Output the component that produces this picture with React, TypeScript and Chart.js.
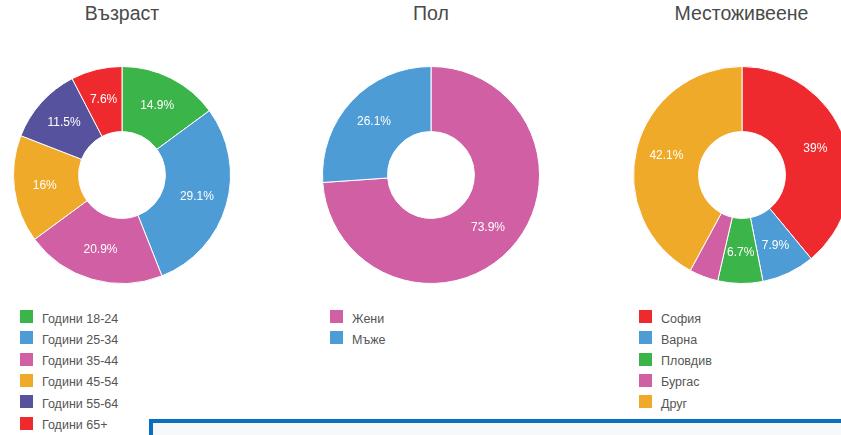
import React, { useEffect, useRef } from "react";
import { Chart, registerables } from "chart.js";

Chart.register(...registerables);

const ageTitle = "Възраст";
const ageLabels = ["Години 18-24", "Години 25-34", "Години 35-44", "Години 45-54", "Години 55-64", "Години 65+"];
const ageValues = [14.9, 29.1, 20.9, 16, 11.5, 7.6];
const ageColors = ["#3bb44a", "#4e9cd5", "#d05fa3", "#f0aa29", "#56529d", "#ee2a2f"];

const genderTitle = "Пол";
const genderLabels = ["Жени", "Мъже"];
const genderValues = [73.9, 26.1];
const genderColors = ["#d05fa3", "#4e9cd5"];

const cityTitle = "Местоживеене";
const cityLabels = ["София", "Варна", "Пловдив", "Бургас", "Друг"];
const cityValues = [39, 7.9, 6.7, 4.3, 42.1];
const cityColors = ["#ee2a2f", "#4e9cd5", "#3bb44a", "#d05fa3", "#f0aa29"];

const FONT = "Arial, 'Liberation Sans', Helvetica, sans-serif";

const labelPlugin = {
  id: "pctLabels",
  afterDatasetsDraw(chart: any) {
    const { ctx } = chart;
    const meta = chart.getDatasetMeta(0);
    const data = chart.data.datasets[0].data as number[];
    ctx.save();
    ctx.fillStyle = "#ffffff";
    ctx.font = `12px ${FONT}`;
    ctx.textAlign = "center";
    ctx.textBaseline = "middle";
    meta.data.forEach((arc: any, i: number) => {
      const v = data[i];
      if (v < 5) return;
      const { x, y, startAngle, endAngle, innerRadius, outerRadius } = arc.getProps(
        ["x", "y", "startAngle", "endAngle", "innerRadius", "outerRadius"],
        true
      );
      const mid = (startAngle + endAngle) / 2;
      const r = (innerRadius + outerRadius) / 2 + 2;
      ctx.fillText(`${v}%`, x + Math.cos(mid) * r, y + Math.sin(mid) * r);
    });
    ctx.restore();
  },
};

type Props = {
  cx: number;
  title: string;
  labels: string[];
  values: number[];
  colors: string[];
  legendX: number;
};

function DoughnutBlock({ cx, title, labels, values, colors, legendX }: Props) {
  const ref = useRef<HTMLCanvasElement>(null);
  const size = 218;
  useEffect(() => {
    if (!ref.current) return;
    const chart = new Chart(ref.current, {
      type: "doughnut",
      data: {
        labels,
        datasets: [
          {
            data: values,
            backgroundColor: colors,
            borderColor: "#ffffff",
            borderWidth: 1,
          },
        ],
      },
      options: {
        animation: false,
        responsive: false,
        maintainAspectRatio: false,
        cutout: "40%",
        layout: { padding: 0 },
        plugins: {
          legend: { display: false },
          tooltip: { enabled: false },
          title: { display: false },
        },
      },
      plugins: [labelPlugin],
    });
    return () => chart.destroy();
  }, []);
  return (
    <>
      <div
        style={{
          position: "absolute",
          left: cx - 150,
          width: 300,
          top: 2,
          textAlign: "center",
          fontFamily: FONT,
          fontSize: 19.5,
          lineHeight: "22px",
          color: "#4a4a4a",
        }}
      >
        {title}
      </div>
      <canvas
        ref={ref}
        width={size}
        height={size}
        style={{ position: "absolute", left: cx - size / 2, top: 66, width: size, height: size }}
      />
      {labels.map((l, i) => (
        <div
          key={l}
          style={{
            position: "absolute",
            left: legendX,
            top: 310 + i * 21.33,
            height: 13,
            whiteSpace: "nowrap",
          }}
        >
          <div
            style={{ position: "absolute", left: 0, top: 0, width: 13, height: 13, background: colors[i] }}
          />
          <div
            style={{
              position: "absolute",
              left: 22.5,
              top: 1.5,
              fontFamily: FONT,
              fontSize: 12.5,
              lineHeight: "15px",
              color: "#555555",
            }}
          >
            {l}
          </div>
        </div>
      ))}
    </>
  );
}

export default function App() {
  return (
    <div
      style={{
        position: "fixed",
        left: 0,
        top: 0,
        width: 841,
        height: 435,
        overflow: "hidden",
        background: "#ffffff",
      }}
    >
      <DoughnutBlock cx={122} title={ageTitle} labels={ageLabels} values={ageValues} colors={ageColors} legendX={19.5} />
      <DoughnutBlock cx={431} title={genderTitle} labels={genderLabels} values={genderValues} colors={genderColors} legendX={329.5} />
      <DoughnutBlock cx={741.5} title={cityTitle} labels={cityLabels} values={cityValues} colors={cityColors} legendX={638.5} />
      <div
        style={{
          position: "absolute",
          left: 149,
          top: 419,
          width: 760,
          height: 60,
          border: "4px solid #0b6fbf",
          borderRight: "none",
          background: "#f7f8fa",
          boxSizing: "border-box",
        }}
      />
    </div>
  );
}
